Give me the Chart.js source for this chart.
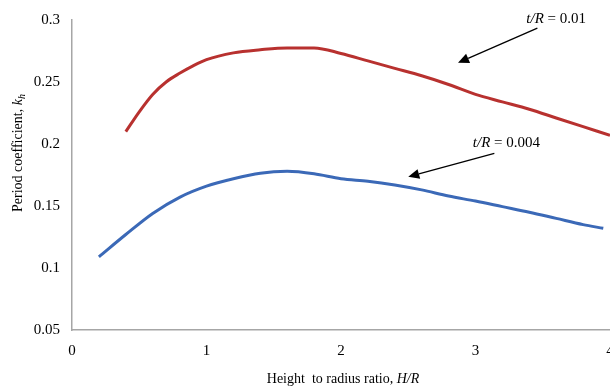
<!DOCTYPE html>
<html>
<head>
<meta charset="utf-8">
<script src="https://cdn.jsdelivr.net/npm/chart.js@4/dist/chart.umd.min.js"></script>
<style>
  html, body { margin: 0; padding: 0; background: #fff; overflow: hidden; }
</style>
</head>
<body>
<canvas id="chart" width="610" height="391"></canvas>
<script>
// H/R values and period coefficients
const redX = [0.4, 0.5, 0.6, 0.7, 0.8, 0.9, 1.0, 1.2, 1.4, 1.6, 1.8, 2.0, 2.2, 2.4, 2.6, 2.8, 3.0, 3.2, 3.4, 3.6, 3.8, 4.0];
const redY = [0.210, 0.226, 0.240, 0.250, 0.257, 0.263, 0.268, 0.2735, 0.276, 0.2775, 0.2775, 0.273, 0.267, 0.261, 0.255, 0.248, 0.240, 0.234, 0.228, 0.221, 0.214, 0.207];
const blueX = [0.2, 0.4, 0.6, 0.8, 1.0, 1.2, 1.4, 1.6, 1.8, 2.0, 2.2, 2.4, 2.6, 2.8, 3.0, 3.2, 3.4, 3.6, 3.8, 3.95];
const blueY = [0.109, 0.127, 0.144, 0.157, 0.166, 0.172, 0.1765, 0.178, 0.176, 0.172, 0.170, 0.167, 0.163, 0.158, 0.154, 0.1495, 0.145, 0.140, 0.135, 0.132];
const xTicks = [0, 1, 2, 3, 4];
const yTicks = [0.05, 0.1, 0.15, 0.2, 0.25, 0.3];

// annotations: label, text anchor, arrow tail, arrow head (data units)
const notes = [
  { value: '0.01', text: [3.6, 0.3005], from: [3.46, 0.2935], to: [2.87, 0.2655] },
  { value: '0.004', text: [3.23, 0.2005], from: [3.14, 0.1925], to: [2.5, 0.1735] },
];

const serif = '"Liberation Serif", "Times New Roman", serif';
const axisGray = '#a6a6a6';

const toPoints = (xs, ys) => xs.map((x, i) => ({ x, y: ys[i] }));

function mixedText(ctx, parts, x, y) {
  // parts: [text, italic, sizeDelta, dy]
  let w = 0;
  parts.forEach(([t, it, d = 0]) => { ctx.font = `${it ? 'italic ' : ''}${15 + d}px ${serif}`; w += ctx.measureText(t).width; });
  let cx = x - w / 2;
  parts.forEach(([t, it, d = 0, dy = 0]) => {
    ctx.font = `${it ? 'italic ' : ''}${15 + d}px ${serif}`;
    ctx.fillText(t, cx, y + dy);
    cx += ctx.measureText(t).width;
  });
}

const decorations = {
  id: 'decorations',
  afterDraw(chart) {
    const { ctx, scales: { x, y } } = chart;
    ctx.save();
    ctx.fillStyle = '#000';
    ctx.strokeStyle = '#000';
    ctx.textBaseline = 'middle';

    notes.forEach((n) => {
      mixedText(ctx, [['t/R', true], [' = ' + n.value, false]], x.getPixelForValue(n.text[0]), y.getPixelForValue(n.text[1]));
      const x1 = x.getPixelForValue(n.from[0]), y1 = y.getPixelForValue(n.from[1]);
      const x2 = x.getPixelForValue(n.to[0]), y2 = y.getPixelForValue(n.to[1]);
      const a = Math.atan2(y2 - y1, x2 - x1);
      const len = 11, half = 5;
      const bx = x2 - len * Math.cos(a), by = y2 - len * Math.sin(a);
      ctx.lineWidth = 1.3;
      ctx.beginPath();
      ctx.moveTo(x1, y1);
      ctx.lineTo(bx, by);
      ctx.stroke();
      ctx.beginPath();
      ctx.moveTo(x2, y2);
      ctx.lineTo(bx + half * Math.sin(a), by - half * Math.cos(a));
      ctx.lineTo(bx - half * Math.sin(a), by + half * Math.cos(a));
      ctx.closePath();
      ctx.fill();
    });

    // axis titles
    mixedText(ctx, [['Height  to radius ratio, ', false, -1], ['H/R', true, -1]], 343, 379);
    ctx.translate(18, 153);
    ctx.rotate(-Math.PI / 2);
    mixedText(ctx, [['Period coefficient, ', false, -1], ['k', true, -1], ['h', true, -5, 4]], 0, 0);
    ctx.restore();
  },
};

new Chart(document.getElementById('chart'), {
  type: 'scatter',
  data: {
    datasets: [
      { label: 't/R = 0.01', data: toPoints(redX, redY), borderColor: '#b8312f', borderWidth: 3 },
      { label: 't/R = 0.004', data: toPoints(blueX, blueY), borderColor: '#3b69b7', borderWidth: 3 },
    ].map((d) => ({ ...d, showLine: true, pointRadius: 0, tension: 0.4, cubicInterpolationMode: 'monotone', fill: false })),
  },
  options: {
    responsive: false,
    animation: false,
    events: [],
    layout: { padding: { top: 20, right: -3, left: 0, bottom: 0 } },
    plugins: { legend: { display: false }, tooltip: { enabled: false } },
    scales: {
      x: {
        type: 'linear', min: 0, max: 4,
        afterBuildTicks: (s) => { s.ticks = xTicks.map((v) => ({ value: v })); },
        afterFit: (s) => { s.height = 61; s.paddingRight = 0; s.paddingLeft = 0; },
        grid: { drawOnChartArea: false, drawTicks: false },
        border: { color: axisGray, width: 1.5 },
        ticks: { color: '#000', padding: 12, font: { family: serif, size: 15 }, callback: (v) => String(v) },
      },
      y: {
        type: 'linear', min: 0.05, max: 0.3,
        afterBuildTicks: (s) => { s.ticks = yTicks.map((v) => ({ value: v })); },
        afterFit: (s) => { s.width = 72; s.paddingTop = 0; s.paddingBottom = 0; },
        grid: { drawOnChartArea: false, drawTicks: false },
        border: { color: axisGray, width: 1.5 },
        ticks: { color: '#000', padding: 12, font: { family: serif, size: 15 }, callback: (v) => String(v) },
      },
    },
  },
  plugins: [decorations],
});
</script>
</body>
</html>
